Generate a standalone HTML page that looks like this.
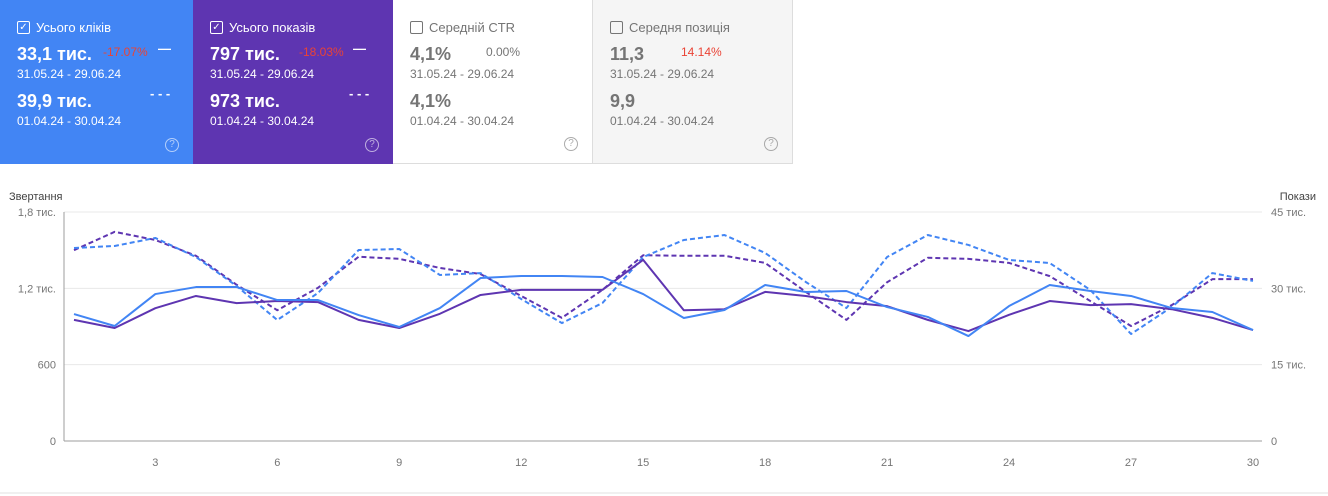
<!DOCTYPE html>
<html><head><meta charset="utf-8"><style>
body{margin:0;width:1328px;height:496px;overflow:hidden;background:#fff;font-family:"Liberation Sans",sans-serif;position:relative}
.tile{position:absolute;top:0;height:164px;width:200px;box-sizing:border-box;padding:18px 0 0 17px}
.t1{left:0;width:193px;background:#4285f4;color:#fff}
.t2{left:193px;background:#5e35b1;color:#fff}
.t3{left:393px;background:#fff;color:#757575;border-bottom:1px solid #ddd;border-right:1px solid #ddd}
.t4{left:593px;background:#f5f5f5;color:#757575;border-bottom:1px solid #ddd;border-right:1px solid #ddd}
.hd{font-size:13px;display:flex;align-items:center;height:18px}
.cb{width:11px;height:11px;border:1.5px solid currentColor;border-radius:2px;margin-right:6px;font-size:10px;line-height:11px;text-align:center}
.big{position:absolute;left:17px;font-size:18px;font-weight:bold}
.dt{position:absolute;left:17px;font-size:12px}
.pct{position:absolute;font-size:12px}
.mk{position:absolute;left:158px;font-size:13px;font-weight:bold}
.q{position:absolute;right:14px;bottom:12px;width:12px;height:12px;border:1.3px solid currentColor;border-radius:50%;font-size:10px;text-align:center;line-height:12px;opacity:.6}
</style></head><body>
<div class="tile t1">
<div class="hd"><span class="cb">✓</span>Усього кліків</div>
<div class="big" style="top:44px">33,1 тис.</div><div class="pct" style="left:103px;top:45px;color:#ea4335">-17.07%</div><div class="mk" style="top:41px">—</div>
<div class="dt" style="top:67px">31.05.24 - 29.06.24</div>
<div class="big" style="top:91px">39,9 тис.</div><div class="mk" style="left:150px;top:86px">- - -</div>
<div class="dt" style="top:114px">01.04.24 - 30.04.24</div><div class="q">?</div></div>
<div class="tile t2">
<div class="hd"><span class="cb">✓</span>Усього показів</div>
<div class="big" style="top:44px">797 тис.</div><div class="pct" style="left:106px;top:45px;color:#ea4335">-18.03%</div><div class="mk" style="left:160px;top:41px">—</div>
<div class="dt" style="top:67px">31.05.24 - 29.06.24</div>
<div class="big" style="top:91px">973 тис.</div><div class="mk" style="left:156px;top:86px">- - -</div>
<div class="dt" style="top:114px">01.04.24 - 30.04.24</div><div class="q">?</div></div>
<div class="tile t3">
<div class="hd"><span class="cb"></span>Середній CTR</div>
<div class="big" style="top:44px">4,1%</div><div class="pct" style="left:93px;top:45px">0.00%</div>
<div class="dt" style="top:67px">31.05.24 - 29.06.24</div>
<div class="big" style="top:91px">4,1%</div>
<div class="dt" style="top:114px">01.04.24 - 30.04.24</div><div class="q">?</div></div>
<div class="tile t4">
<div class="hd"><span class="cb"></span>Середня позиція</div>
<div class="big" style="top:44px">11,3</div><div class="pct" style="left:88px;top:45px;color:#ea4335">14.14%</div>
<div class="dt" style="top:67px">31.05.24 - 29.06.24</div>
<div class="big" style="top:91px">9,9</div>
<div class="dt" style="top:114px">01.04.24 - 30.04.24</div><div class="q">?</div></div>
<svg id="ch" width="1328" height="496" style="position:absolute;left:0;top:0;pointer-events:none"></svg>
<script>
const days=[];for(let i=1;i<=30;i++)days.push(i);
const xTicks=[3,6,9,12,15,18,21,24,27,30];
const leftTicks=[0,600,1200,1800];
const leftLabels=["0","600","1,2 тис.","1,8 тис."];
const rightTicks=[0,15,30,45];
const rightLabels=["0","15 тис.","30 тис.","45 тис."];
const clicksCur=[998,904,1155,1210,1210,1108,1108,990,896,1045,1281,1297,1297,1289,1155,967,1030,1226,1171,1179,1053,975,825,1061,1226,1179,1140,1045,1014,872];
const clicksPrev=[1517,1533,1596,1446,1218,951,1163,1501,1509,1305,1320,1116,927,1085,1446,1580,1619,1478,1250,1045,1446,1619,1541,1423,1399,1187,841,1053,1320,1258];
const imprCur=[23.8,22.2,26.1,28.5,27.1,27.5,27.3,23.8,22.2,25.0,28.7,29.7,29.7,29.7,35.6,25.7,25.9,29.3,28.5,27.3,26.5,23.8,21.6,24.8,27.5,26.7,26.9,25.9,24.2,21.8];
const imprPrev=[37.5,41.1,39.5,36.4,30.7,25.7,30.1,36.2,35.8,34.0,32.8,28.5,24.2,29.7,36.5,36.4,36.4,35.0,29.3,23.8,31.2,36.0,35.8,35.0,32.4,27.5,22.6,26.7,31.8,31.8];
const X0=74,X1=1253,Y0=441,Y1=212;
const x=d=>X0+(d-1)*(X1-X0)/29;
const yL=v=>Y0-v/1800*(Y0-Y1);
const yR=v=>Y0-v/45*(Y0-Y1);
const svg=document.getElementById('ch');const NS='http://www.w3.org/2000/svg';
function mk(t,a){const e=document.createElementNS(NS,t);for(const k in a)e.setAttribute(k,a[k]);svg.appendChild(e);return e;}
leftTicks.forEach((v,i)=>{
 const g=mk('line',{x1:64,x2:1262,y1:yL(v),y2:yL(v),stroke:i==0?'#9e9e9e':'#e8e8e8'});
 
 
 const t=mk('text',{x:56,y:yL(v)+4,'text-anchor':'end','font-size':11,fill:'#757575'});t.textContent=leftLabels[i];
 
 
});
rightTicks.forEach((v,i)=>{
 const t=mk('text',{x:1271,y:yR(v)+4,'font-size':11,fill:'#757575'});t.textContent=rightLabels[i];
 
 
});
const ax=mk('line',{x1:64,x2:64,y1:212,y2:441,stroke:'#9e9e9e'});


xTicks.forEach(d=>{
 const t=mk('text',{x:x(d),y:466,'text-anchor':'middle','font-size':11,fill:'#757575'});t.textContent=d;
 
 
});
let t=mk('text',{x:9,y:200,'font-size':11,fill:'#424242'});t.textContent='Звертання';


t=mk('text',{x:1316,y:200,'font-size':11,fill:'#424242','text-anchor':'end'});t.textContent='Покази';


const bl=mk('line',{x1:0,x2:1328,y1:493,y2:493,stroke:'#e0e0e0'});


function series(arr,yf,col,dash,name){
 const p=mk('polyline',{points:arr.map((v,i)=>x(days[i])+','+yf(v)).join(' '),fill:'none',stroke:col,'stroke-width':2,'stroke-dasharray':dash?'5,3':'none','stroke-linejoin':'round'});
 
 
}
series(imprPrev,yR,'#5e35b1',true,'impressions-previous-line');
series(clicksPrev,yL,'#4285f4',true,'clicks-previous-line');
series(imprCur,yR,'#5e35b1',false,'impressions-current-line');
series(clicksCur,yL,'#4285f4',false,'clicks-current-line');
</script>
</body></html>
